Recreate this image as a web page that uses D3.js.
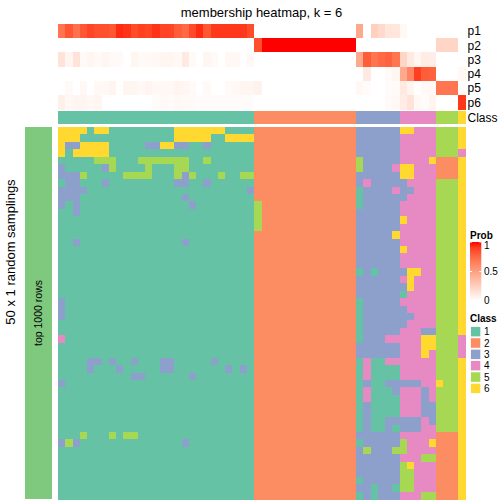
<!DOCTYPE html>
<html><head><meta charset="utf-8">
<script src="https://cdn.jsdelivr.net/npm/d3@7"></script>
<style>
html,body{margin:0;padding:0;background:#fff;}
svg{display:block;font-family:"Liberation Sans",Arial,Helvetica,sans-serif;}
</style></head>
<body><svg id="c" width="504" height="504"></svg>
<script>
// ---------------- data ----------------
const title = "membership heatmap, k = 6";
const rowTitle = "50 x 1 random samplings";
const rowAnnoLabel = "top 1000 rows";
const classes = [1, 2, 3, 4, 5, 6];
const classColors = ["#66C2A5", "#FC8D62", "#8DA0CB", "#E78AC3", "#A6D854", "#FFD92F"];
const probNames = ["p1", "p2", "p3", "p4", "p5", "p6"];
const probTicks = [0, 0.5, 1];
// consensus class of each of the 56 samples (columns)
const consensusClass = [
  1,1,1,1,1,1,1,1,1,1,1,1,1,1,1,1,1,1,1,1,1,1,1,1,1,1,1,
  2,2,2,2,2,2,2,2,2,2,2,2,2,2,
  3,3,3,3,3,3,
  4,4,4,4,4,
  5,5,5,
  6];
// membership probabilities p1..p6 per column
const p1 = [0.70,0.82,0.72,0.82,0.88,0.85,0.85,0.82,0.95,0.93,0.86,0.90,0.88,0.93,0.88,0.88,0.80,0.75,0.87,0.95,0.82,0.92,0.92,0.92,0.92,0.92,0.86,
  0,0,0,0,0,0,0,0,0,0,0,0,0,0, 0.45,0,0.25,0.20,0.14,0.13, 0.04,0,0,0,0, 0,0,0, 0];
const p2 = [0,0,0,0,0,0,0,0,0,0,0,0,0,0,0,0,0,0,0,0,0,0,0,0,0,0,0,
  0.85,1,1,1,1,1,1,1,1,1,1,1,1,1, 0,0,0,0,0,0, 0,0,0,0,0, 0.22,0.22,0.22, 0];
const p3 = [0.15,0.06,0.15,0.03,0.05,0.03,0.05,0.03,0.03,0,0.05,0.03,0.03,0.04,0.05,0.05,0.04,0.11,0.03,0,0.05,0.03,0,0.04,0.04,0,0.04,
  0,0,0,0,0,0,0,0,0,0,0,0,0,0, 0.45,0.80,0.70,0.75,0.78,0.70, 0.22,0.11,0.05,0.10,0.09, 0,0,0, 0];
const p4 = [0,0,0,0,0,0,0,0,0,0,0,0,0,0,0,0,0,0,0,0,0,0,0,0,0,0,0,
  0,0,0,0,0,0,0,0,0,0,0,0,0,0, 0,0.11,0,0,0.03,0.05, 0.45,0.62,0.90,0.80,0.78, 0,0,0, 0.04];
const p5 = [0,0.03,0,0.04,0,0.04,0.04,0.06,0,0.05,0.05,0.04,0.06,0.04,0.04,0.04,0.06,0.05,0.03,0,0.03,0,0,0.03,0.04,0.05,0.05,
  0.07,0,0,0,0,0,0,0,0,0,0,0,0,0, 0.04,0.02,0,0,0.02,0.03, 0.11,0.06,0,0.04,0.04, 0.70,0.70,0.70, 0];
const p6 = [0.08,0.04,0.05,0.05,0.04,0.05,0,0,0,0,0,0,0,0.02,0.03,0.02,0.04,0.03,0.03,0.02,0.02,0.02,0.02,0.02,0.02,0.02,0.02,
  0,0,0,0,0,0,0,0,0,0,0,0,0,0, 0,0,0,0,0.03,0.04, 0.10,0.15,0.04,0.02,0.06, 0,0,0, 0.92];
// class assigned in each of the 50 random samplings (rows) x 56 columns
const samplings = [
  "66661661111111116666666111122222222222222333333664445556",
  "66611111111111116666611666622222222222222333333444445556",
  "63366661111133663311311111122222222222222333333444445556",
  "61666661111111111111111111122222222222222333333444445554",
  "11111555111555555511511111122222222222222533333444462226",
  "31111135111151115511111111122222222222222533334664442226",
  "33351111155551115351115115522222222222222333333664442226",
  "13311131111111113311311111122222222222222343333344445556",
  "33331111111111111111111111322222222222222133334334445556",
  "33311111111111111311111111122222222222222133333344445556",
  "31311111111111111131111111152222222222222133333444445556",
  "11311111111111111111111111152222222222222333333444445556",
  "11111111111111111111111111152222222222222333333644445556",
  "11111111111111111111111111152222222222222333333444445556",
  "11111111111111111111111111122222222222222333336444445556",
  "11311111111111111311111111122222222222222333333444445556",
  "11111111111111111111111111122222222222222333333644445556",
  "11111111111111111111111111122222222222222333333444445556",
  "11111111111111111111111111122222222222222333333444445556",
  "11111111111111111111111111122222222222222131333366445556",
  "11111111111111111111111111122222222222222333333464445556",
  "11111111111111111111111111122222222222222333333364445556",
  "11111111111111111111111111122222222222222333333144445556",
  "31111111111111111111111111122222222222222133333444445556",
  "31111111111111111111111111122222222222222133333344445556",
  "31111111111111111111111111122222222222222133333334445556",
  "11111111111111111111111111122222222222222133333344445556",
  "11111111111111111111111111122222222222222133333444335556",
  "41111111111111111111111111122222222222222133344444665554",
  "11111111111111111111111111122222222222222333333444665554",
  "11111111111111111111111111122222222222222333333444645554",
  "11113313113111331111131111122222222222222141144444445556",
  "11113111311111331111111313122222222222222141111444445556",
  "11111111113311111131111111122222222222222141111444445556",
  "31111111111111111111111111122222222222222131133333446556",
  "11111111111111111111111111122222222222222141113444345556",
  "11111111111111111111111111122222222222222141111444345556",
  "11111111111111111111111111122222222222222131111444335556",
  "11111111111111111111111111122222222222222131111444335556",
  "11111111111111111111111111122222222222222131133333435556",
  "11111111111111111111111111122222222222222131131333445556",
  "11151115155111111111111111122222222222222333333444442226",
  "35311111111111111311111111122222222222222133333544462226",
  "11111111111111111111111111122222222222222353335544442226",
  "11111111111111111111111111122222222222222333333444552226",
  "11111111111111111111111111122222222222222333333564442226",
  "11111111111111111111111111122222222222222333333554442226",
  "11111111111111111111111111122222222222222133333554442226",
  "11111111111111111111111111122222222222222331331554442226",
  "11111111111111111111111111122222222222222131333444552226"
];

// ---------------- drawing ----------------
const svg = d3.select("#c");
const nCol = consensusClass.length, nRow = samplings.length;
const x = d3.scaleBand().domain(d3.range(nCol)).range([58, 465]).padding(0);
const y = d3.scaleBand().domain(d3.range(nRow)).range([127, 499]).padding(0);
const yAnno = d3.scaleBand().domain(probNames).range([24, 109.3]).padding(0);
const classColor = d3.scaleOrdinal().domain(classes).range(classColors);
const probColor = d3.scaleLinear().domain([0, 1]).range(["#FFFFFF", "#FF0000"]).interpolate(d3.interpolateLab);

// title
svg.append("text").attr("x", 261.5).attr("y", 16.5).attr("text-anchor", "middle")
  .attr("font-size", 13).attr("fill", "#000").text(title);

// probability annotation rows
const probs = [p1, p2, p3, p4, p5, p6];
const gA = svg.append("g").attr("shape-rendering", "crispEdges");
probs.forEach((arr, i) => {
  gA.selectAll(null).data(arr).join("rect")
    .attr("x", (d, j) => x(j)).attr("y", yAnno(probNames[i]))
    .attr("width", x.bandwidth() + 0.5).attr("height", yAnno.bandwidth() + 0.3)
    .attr("fill", d => probColor(d));
});
// class annotation
gA.selectAll(null).data(consensusClass).join("rect")
  .attr("x", (d, j) => x(j)).attr("y", 110.5)
  .attr("width", x.bandwidth() + 0.5).attr("height", 13.3)
  .attr("fill", d => classColor(d));
// annotation labels
const annoLabels = probNames.concat(["Class"]);
svg.selectAll(null).data(annoLabels).join("text")
  .attr("x", 467.5)
  .attr("y", (d, i) => i < 6 ? yAnno(d) + yAnno.bandwidth() / 2 : 117.2)
  .attr("dy", "0.36em").attr("font-size", 12).attr("fill", "#000").text(d => d);

// main heatmap
const gM = svg.append("g").attr("shape-rendering", "crispEdges");
samplings.forEach((row, r) => {
  const vals = row.split("").map(Number);
  gM.selectAll(null).data(vals).join("rect")
    .attr("x", (d, j) => x(j)).attr("y", y(r))
    .attr("width", x.bandwidth() + 0.5).attr("height", y.bandwidth() + 0.5)
    .attr("fill", d => classColor(d));
});

// left row annotation bar
svg.append("rect").attr("x", 25).attr("y", 127).attr("width", 27).attr("height", 372)
  .attr("fill", "#7FC97F");
svg.append("text").attr("transform", "translate(41.8,313) rotate(-90)")
  .attr("text-anchor", "middle").attr("font-size", 10.5).attr("fill", "#000").text(rowAnnoLabel);
svg.append("text").attr("transform", "translate(14.5,252) rotate(-90)")
  .attr("text-anchor", "middle").attr("font-size", 13).attr("fill", "#000").text(rowTitle);

// legends
const lx = 470;
svg.append("text").attr("x", lx).attr("y", 238.5).attr("font-size", 10).attr("font-weight", "bold").text("Prob");
const defs = svg.append("defs");
const grad = defs.append("linearGradient").attr("id", "pg").attr("x1", 0).attr("y1", 1).attr("x2", 0).attr("y2", 0);
d3.range(0, 1.001, 0.1).forEach(t => grad.append("stop").attr("offset", t).attr("stop-color", probColor(t)));
const lyScale = d3.scaleLinear().domain([0, 1]).range([301, 242]);
svg.append("rect").attr("x", lx).attr("y", 242).attr("width", 11.3).attr("height", 59).attr("fill", "url(#pg)");
probTicks.forEach(t => {
  if (t > 0) {
    svg.append("line").attr("x1", lx).attr("x2", lx + 2).attr("y1", lyScale(t)).attr("y2", lyScale(t)).attr("stroke", "#fff").attr("stroke-width", 1);
    svg.append("line").attr("x1", lx + 9.3).attr("x2", lx + 11.3).attr("y1", lyScale(t)).attr("y2", lyScale(t)).attr("stroke", "#fff").attr("stroke-width", 1);
  }
});
svg.selectAll(null).data(probTicks).join("text")
  .attr("x", lx + 14).attr("y", d => d === 1 ? lyScale(d) + 3 : (d === 0 ? lyScale(d) - 1 : lyScale(d)))
  .attr("dy", "0.36em").attr("font-size", 10).text(d => d3.format("")(d));

svg.append("text").attr("x", lx).attr("y", 322).attr("font-size", 10).attr("font-weight", "bold").text("Class");
const cy = d3.scaleBand().domain(classes).range([326, 326 + 6 * 11.34]);
svg.selectAll(null).data(classes).join("rect")
  .attr("x", lx + 0.5).attr("y", d => cy(d) + 0.5).attr("width", 10.3).attr("height", cy.bandwidth() - 1)
  .attr("fill", d => classColor(d)).attr("stroke", "#fff").attr("stroke-width", 0.8);
svg.selectAll(null).data(classes).join("text")
  .attr("x", lx + 14).attr("y", d => cy(d) + cy.bandwidth() / 2).attr("dy", "0.36em")
  .attr("font-size", 10).text(d => d);
</script></body></html>
